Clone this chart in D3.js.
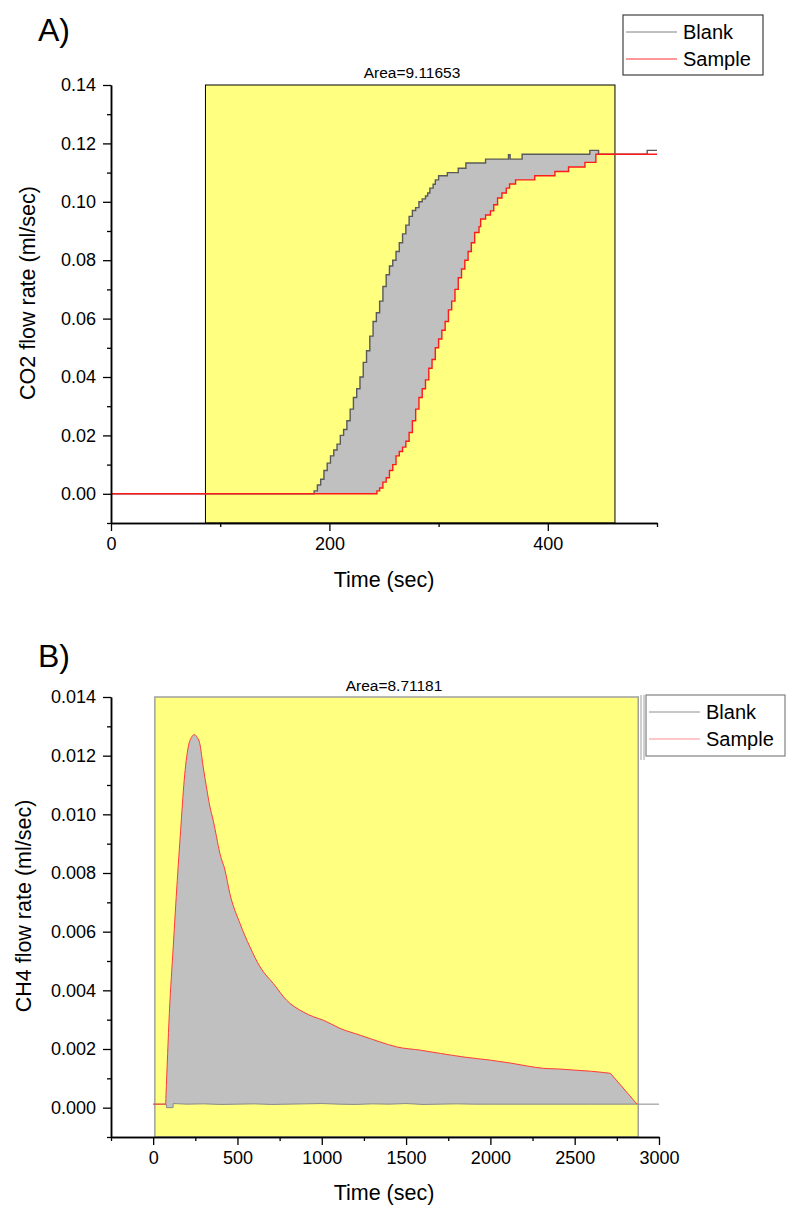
<!DOCTYPE html>
<html><head><meta charset="utf-8">
<script src="https://cdn.jsdelivr.net/npm/d3@7"></script>
<style>body{margin:0;background:#fff} svg{display:block} text{font-family:"Liberation Sans",Arial,sans-serif;fill:#000}</style>
</head><body><svg id="c" width="788" height="1206"></svg>
<script>
// ---------- Panel A : CO2 (step data) ----------
const aBlankTime = [0,186,189,192,195,198,201,204,207,210,213,216,219,222,225,228,231,234,237,240,243,246,249,252,255,258,261,264,267,270,273,276,279,282,285,288,290,292,295,297,300,308,318,325,343,364,365.5,376.5,438.5,446.5,491,500];
const aBlankRate = [0,0.001,0.003,0.005,0.008,0.0105,0.013,0.015,0.017,0.020,0.022,0.025,0.029,0.033,0.036,0.040,0.045,0.049,0.054,0.059,0.062,0.066,0.071,0.075,0.078,0.080,0.083,0.086,0.089,0.092,0.095,0.097,0.098,0.100,0.101,0.102,0.103,0.1047,0.106,0.1075,0.1089,0.110,0.1115,0.1133,0.1146,0.1161,0.1146,0.1163,0.1176,0.1163,0.1176,0.1176];
const aSampleTime = [0,243.5,246,249,252,255,258,261,264,267,270,273,276,279,282,285,288,291,294,297,300,303,306,309,312,315,318,321,324,327,330,333,337,338.5,343,347.5,350.5,354,358,362,365,370.5,388,406.5,419,434,444,500];
const aSampleRate = [0,0.001,0.002,0.004,0.0055,0.008,0.010,0.013,0.0145,0.016,0.018,0.021,0.025,0.029,0.033,0.036,0.039,0.043,0.046,0.050,0.053,0.056,0.059,0.063,0.066,0.070,0.074,0.077,0.080,0.083,0.086,0.0895,0.0915,0.0941,0.0955,0.0969,0.099,0.1013,0.103,0.1047,0.1061,0.1075,0.1089,0.1104,0.1119,0.1135,0.1163,0.1163];
const aXTicks = [0,200,400];
const aXMinor = [100,300,500];
const aYTicks = [0,0.02,0.04,0.06,0.08,0.10,0.12,0.14];
const aYMinor = [-0.01,0.01,0.03,0.05,0.07,0.09,0.11,0.13];
const aRange = [86.5,461.5];
const aAreaText = "Area=9.11653";

// ---------- Panel B : CH4 ----------
const bSampleTime = [0,74,76,96,119,143,163,184,208,230,244,258,277,297,317,337,356,376,396,426,455,515,574,634,713,792,891,950,1010,1109,1228,1346,1445,1584,1703,1850,2000,2120,2218,2316,2400,2500,2600,2712,2870];
const bSampleRate = [0.00012,0.00012,0.0004,0.00321,0.00548,0.00775,0.00945,0.01116,0.01229,0.01265,0.01272,0.01265,0.0124,0.01161,0.0109,0.01025,0.0098,0.00923,0.00866,0.0081,0.0073,0.00628,0.00548,0.0048,0.00423,0.00366,0.00326,0.0031,0.00298,0.0027,0.00247,0.00224,0.00207,0.00196,0.00185,0.00172,0.00162,0.00152,0.00142,0.00134,0.00132,0.00128,0.00124,0.00117,0.00012];
const bBlankTime = [0,78,79,118,119,200,300,400,500,600,700,800,900,1000,1100,1200,1300,1400,1500,1600,1700,1800,1900,2000,2200,2400,2600,2800,3000];
const bBlankRate = [0.00012,0.00012,0,0,0.00014,0.00012,0.00013,0.00011,0.00012,0.00013,0.00011,0.00012,0.00013,0.00014,0.00012,0.00011,0.00013,0.00012,0.00014,0.00011,0.00012,0.00013,0.00012,0.00012,0.00012,0.00012,0.00012,0.00012,0.00012];
const bXTicks = [0,500,1000,1500,2000,2500,3000];
const bXMinor = [-250,250,750,1250,1750,2250,2750];
const bYTicks = [0,0.002,0.004,0.006,0.008,0.010,0.012,0.014];
const bYMinor = [-0.001,0.001,0.003,0.005,0.007,0.009,0.011,0.013];
const bRange = [10,2877];
const bAreaText = "Area=8.71181";

const svg = d3.select("#c");

function stepCorners(ts, vs){
  const p=[];
  for(let i=0;i<ts.length;i++){
    if(i>0) p.push([ts[i], vs[i-1]]);
    p.push([ts[i], vs[i]]);
  }
  return p;
}

function drawPanel(o){
  const g = svg.append("g");
  const x = d3.scaleLinear().domain(o.xDom).range([111, o.xRight]);
  const y = d3.scaleLinear().domain(o.yDom).range([o.yBottom, o.yTop]);
  const blank = o.step ? stepCorners(o.bT,o.bV) : o.bT.map((t,i)=>[t,o.bV[i]]);
  const sample = o.step ? stepCorners(o.sT,o.sV) : o.sT.map((t,i)=>[t,o.sV[i]]);
  const lineLin = d3.line().x(d=>x(d[0])).y(d=>y(d[1]));
  const lineMono = d3.line().x(d=>x(d[0])).y(d=>y(d[1])).curve(d3.curveMonotoneX);
  // smooth decay, straight final drop for the continuous panel
  const samplePath = o.step ? lineLin(sample)
    : lineMono(sample.slice(0,-1)) + "L" + x(sample[sample.length-1][0]) + "," + y(sample[sample.length-1][1]);

  const rx0 = x(o.range[0]), rx1 = x(o.range[1]);
  g.append("rect").attr("x",rx0).attr("y",o.yTop).attr("width",rx1-rx0).attr("height",o.yBottom-o.yTop)
    .attr("fill","#ffff80");
  const cid = "clip"+o.id;
  g.append("clipPath").attr("id",cid).append("rect")
    .attr("x",rx0).attr("y",o.yTop).attr("width",rx1-rx0).attr("height",o.yBottom-o.yTop);
  const fillD = samplePath + "L" + lineLin(blank.slice().reverse()).slice(1) + "Z";
  g.append("path").attr("d", fillD).attr("fill","#c0c0c0").attr("clip-path",`url(#${cid})`);
  g.append("rect").attr("x",rx0).attr("y",o.yTop).attr("width",rx1-rx0).attr("height",o.yBottom-o.yTop)
    .attr("fill","none").attr("stroke",o.rectStroke).attr("stroke-width",o.rectW);

  g.append("path").attr("d",lineLin(blank)).attr("fill","none").attr("stroke",o.blankColor).attr("stroke-width",o.lw);
  g.append("path").attr("d",samplePath).attr("fill","none").attr("stroke",o.sampleColor).attr("stroke-width",o.lw);

  g.append("g").attr("transform",`translate(0,${o.yBottom})`)
    .call(d3.axisBottom(x).tickValues(o.xTicks).tickSize(8).tickSizeOuter(0).tickPadding(6).tickFormat(d3.format("d")));
  g.append("g").attr("transform",`translate(0,${o.yBottom})`)
    .call(d3.axisBottom(x).tickValues(o.xMinor).tickSize(4).tickSizeOuter(0).tickFormat(""));
  g.append("g").attr("transform","translate(111,0)")
    .call(d3.axisLeft(y).tickValues(o.yTicks).tickSize(8).tickSizeOuter(0).tickPadding(7).tickFormat(d3.format(o.yFmt)));
  g.append("g").attr("transform","translate(111,0)")
    .call(d3.axisLeft(y).tickValues(o.yMinor).tickSize(4).tickSizeOuter(0).tickFormat(""));
  g.selectAll(".domain").attr("stroke","#000").attr("stroke-width",1.5);
  g.selectAll(".tick line").attr("stroke","#000").attr("stroke-width",1.3);
  g.selectAll(".tick text").attr("font-size",18).attr("font-family",'"Liberation Sans",Arial,sans-serif').attr("fill","#000");

  g.append("text").attr("x",38).attr("y",o.labelY).attr("font-size",32).text(o.label);
  g.append("text").attr("x",o.areaX).attr("y",o.areaY).attr("font-size",15.5).attr("text-anchor","middle").text(o.areaText);
  g.append("text").attr("x",384).attr("y",o.xTitleY).attr("font-size",21.5).attr("text-anchor","middle").text("Time (sec)");
  g.append("text").attr("transform",`translate(${o.yTitleX},${o.yTitleY}) rotate(-90)`).attr("font-size",21.5)
    .attr("text-anchor","middle").text(o.yTitle);

  const L = o.legend;
  g.append("rect").attr("x",L.x).attr("y",L.y).attr("width",L.w).attr("height",L.h)
    .attr("fill","#fff").attr("stroke",L.stroke).attr("stroke-width",1.2);
  [["Blank",o.legendBlank,L.y1],["Sample",o.legendSample,L.y2]].forEach(([t,c,yy])=>{
    g.append("line").attr("x1",L.x+3).attr("x2",L.x+54).attr("y1",yy).attr("y2",yy).attr("stroke",c).attr("stroke-width",1);
    g.append("text").attr("x",L.x+60).attr("y",yy+7).attr("font-size",20).text(t);
  });
  return g;
}

drawPanel({
  id:"A", step:true, xDom:[0,500], xRight:657, yDom:[-0.01,0.14], yBottom:523, yTop:85,
  bT:aBlankTime, bV:aBlankRate, sT:aSampleTime, sV:aSampleRate, range:aRange,
  rectStroke:"#000", rectW:1, blankColor:"#5a5a5a", sampleColor:"#ff1a1a", lw:1.4,
  xTicks:aXTicks, xMinor:aXMinor, yTicks:aYTicks, yMinor:aYMinor, yFmt:".2f",
  label:"A)", labelY:41, areaText:aAreaText, areaX:412, areaY:78, xTitleY:587,
  yTitle:"CO2 flow rate (ml/sec)", yTitleX:35, yTitleY:293,
  legend:{x:623,y:15,w:140,h:60,stroke:"#404040",y1:32,y2:59}, legendBlank:"#808080", legendSample:"#ff3030"
});

drawPanel({
  id:"B", step:false, xDom:[-250,3000], xRight:659, yDom:[-0.001,0.014], yBottom:1137, yTop:697,
  bT:bBlankTime, bV:bBlankRate, sT:bSampleTime, sV:bSampleRate, range:bRange,
  rectStroke:"#a0a0a0", rectW:1.5, blankColor:"#8a8a8a", sampleColor:"#ff3a3a", lw:1,
  xTicks:bXTicks, xMinor:bXMinor, yTicks:bYTicks, yMinor:bYMinor, yFmt:".3f",
  label:"B)", labelY:667, areaText:bAreaText, areaX:394, areaY:691, xTitleY:1200,
  yTitle:"CH4 flow rate (ml/sec)", yTitleX:31, yTitleY:906,
  legend:{x:646,y:695,w:139,h:61,stroke:"#808080",y1:712,y2:739}, legendBlank:"#909090", legendSample:"#ff9090"
});

[641,644].forEach(xx=>svg.append("line").attr("x1",xx).attr("x2",xx).attr("y1",695).attr("y2",760)
  .attr("stroke","#a0a0a0").attr("stroke-width",1));
</script></body></html>
